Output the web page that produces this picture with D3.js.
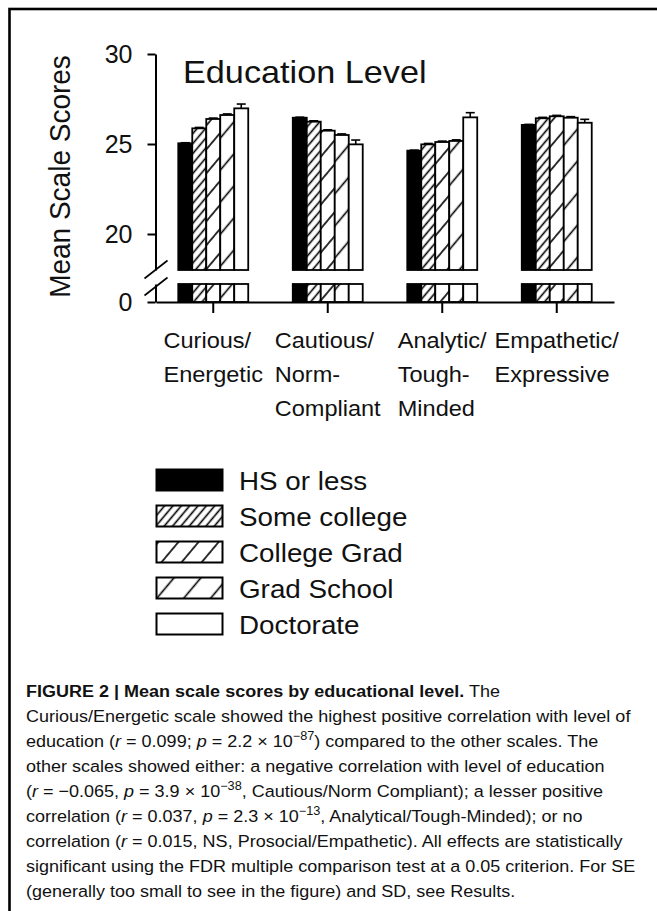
<!DOCTYPE html>
<html>
<head>
<meta charset="utf-8">
<script src="https://cdn.jsdelivr.net/npm/d3@7"></script>
<style>
  html, body { margin: 0; padding: 0; background: #fff; }
  svg { display: block; }
  text { font-family: "Liberation Sans", Arial, Helvetica, sans-serif; fill: #111; }
</style>
</head>
<body>
<div id="chart"></div>
<script>
// ---------------- data ----------------
const categories = ["Curious/Energetic", "Cautious/Norm-Compliant", "Analytic/Tough-Minded", "Empathetic/Expressive"];
const categoryLines = [
  ["Curious/", "Energetic"],
  ["Cautious/", "Norm-", "Compliant"],
  ["Analytic/", "Tough-", "Minded"],
  ["Empathetic/", "Expressive"]
];
const series = ["HS or less", "Some college", "College Grad", "Grad School", "Doctorate"];
const hsOrLess     = [25.04, 26.46, 24.63, 26.06];
const someCollege  = [25.87, 26.24, 24.98, 26.43];
const collegeGrad  = [26.39, 25.74, 25.11, 26.54];
const gradSchool   = [26.61, 25.50, 25.17, 26.46];
const doctorate    = [26.98, 24.98, 26.48, 26.18];
const seriesValues = [hsOrLess, someCollege, collegeGrad, gradSchool, doctorate];
const errHs        = [0.03, 0.03, 0.03, 0.03];
const errSome      = [0.05, 0.05, 0.05, 0.05];
const errCollege   = [0.05, 0.05, 0.05, 0.05];
const errGrad      = [0.06, 0.06, 0.06, 0.06];
const errDoc       = [0.24, 0.24, 0.26, 0.19];
const seriesErrors = [errHs, errSome, errCollege, errGrad, errDoc];
const upperTicks = [20, 25, 30];
const lowerTicks = [0];
const axisBreak = 18;
const chartTitle = "Education Level";
const yTitle = "Mean Scale Scores";

const captionLines = [
  [["FIGURE 2 | Mean scale scores by educational level.", "b"], [" The", ""]],
  [["Curious/Energetic scale showed the highest positive correlation with level of", ""]],
  [["education (", ""], ["r", "i"], [" = 0.099; ", ""], ["p", "i"], [" = 2.2 × 10", ""], ["−87", "sup"], [") compared to the other scales. The", ""]],
  [["other scales showed either: a negative correlation with level of education", ""]],
  [["(", ""], ["r", "i"], [" = −0.065, ", ""], ["p", "i"], [" = 3.9 × 10", ""], ["−38", "sup"], [", Cautious/Norm Compliant); a lesser positive", ""]],
  [["correlation (", ""], ["r", "i"], [" = 0.037, ", ""], ["p", "i"], [" = 2.3 × 10", ""], ["−13", "sup"], [", Analytical/Tough-Minded); or no", ""]],
  [["correlation (", ""], ["r", "i"], [" = 0.015, NS, Prosocial/Empathetic). All effects are statistically", ""]],
  [["significant using the FDR multiple comparison test at a 0.05 criterion. For SE", ""]],
  [["(generally too small to see in the figure) and SD, see Results.", ""]]
];

// ---------------- layout ----------------
const W = 657, H = 911;
const SX = 1.07;   // horizontal stretch of the source figure
const CSX = 1.06;  // caption stretch
const svg = d3.select("#chart").append("svg").attr("width", W).attr("height", H);

// patterns
const defs = svg.append("defs");
const patternSpec = [
  { id: "p1", gap: 6.4 },
  { id: "p2", gap: 15.4 },
  { id: "p3", gap: 20.6 }
];
patternSpec.forEach(p => {
  const pat = defs.append("pattern")
    .attr("id", p.id)
    .attr("patternUnits", "userSpaceOnUse")
    .attr("width", p.gap).attr("height", 10)
    .attr("patternTransform", "rotate(40)");
  pat.append("rect").attr("width", p.gap).attr("height", 10).attr("fill", "#fff");
  pat.append("line").attr("x1", p.gap / 2).attr("x2", p.gap / 2).attr("y1", -1).attr("y2", 11)
    .attr("stroke", "#000").attr("stroke-width", 1.6);
});
const fills = ["#000", "url(#p1)", "url(#p2)", "url(#p3)", "#fff"];
const fillScale = d3.scaleOrdinal().domain(series).range(fills);

// frame
svg.append("rect").attr("x", 9.5).attr("y", 9).attr("width", 760).attr("height", 1000)
  .attr("fill", "none").attr("stroke", "#000").attr("stroke-width", 2.6);

// scales
const x0 = d3.scaleBand().domain(categories).range([156, 614]).paddingInner(0.389).paddingOuter(0.1945);
const x1 = d3.scaleBand().domain(series).range([0, x0.bandwidth()]);
const yUp = d3.scaleLinear().domain([axisBreak, 30]).range([270, 54]);
const yLow = d3.scaleLinear().domain([0, 1]).range([302, 284]);
const axisX = 155.5;

// bars
const rows = [];
categories.forEach((c, ci) => {
  series.forEach((s, si) => {
    rows.push({ cat: c, ser: s, v: seriesValues[si][ci], e: seriesErrors[si][ci] });
  });
});

const barG = svg.append("g");
barG.selectAll("rect.up").data(rows).join("rect")
  .attr("class", "up")
  .attr("x", d => x0(d.cat) + x1(d.ser))
  .attr("y", d => yUp(d.v))
  .attr("width", x1.bandwidth())
  .attr("height", d => yUp(axisBreak) - yUp(d.v))
  .attr("fill", d => fillScale(d.ser))
  .attr("stroke", "#000").attr("stroke-width", 1.8);

barG.selectAll("rect.low").data(rows).join("rect")
  .attr("class", "low")
  .attr("x", d => x0(d.cat) + x1(d.ser))
  .attr("y", yLow(1))
  .attr("width", x1.bandwidth())
  .attr("height", yLow(0) - yLow(1))
  .attr("fill", d => fillScale(d.ser))
  .attr("stroke", "#000").attr("stroke-width", 1.8);

// error bars
const errG = svg.append("g").attr("stroke", "#000").attr("stroke-width", 1.6);
rows.forEach(d => {
  const cx = x0(d.cat) + x1(d.ser) + x1.bandwidth() / 2;
  errG.append("line").attr("x1", cx).attr("x2", cx).attr("y1", yUp(d.v)).attr("y2", yUp(d.v + d.e));
  errG.append("line").attr("x1", cx - 4.5).attr("x2", cx + 4.5).attr("y1", yUp(d.v + d.e)).attr("y2", yUp(d.v + d.e));
});

// axes
function styleAxis(g) {
  g.selectAll("path, line").attr("stroke", "#000").attr("stroke-width", 2);
  g.selectAll("text").attr("font-size", 25).attr("fill", "#111")
    .attr("font-family", "Liberation Sans, Arial, sans-serif");
}
svg.append("g").attr("transform", `translate(${axisX},0)`)
  .call(d3.axisLeft(yUp).tickValues(upperTicks).tickFormat(d3.format("d")).tickSize(8).tickSizeOuter(0).tickPadding(15))
  .call(styleAxis);
svg.append("g").attr("transform", `translate(${axisX},0)`)
  .call(d3.axisLeft(yLow).tickValues(lowerTicks).tickFormat(d3.format("d")).tickSize(8).tickSizeOuter(0).tickPadding(15))
  .call(styleAxis);
svg.append("g").attr("transform", `translate(0,${yLow(0)})`)
  .call(d3.axisBottom(x0).tickSize(11).tickSizeOuter(0).tickFormat(""))
  .call(styleAxis);

// break marks
const brk = svg.append("g").attr("stroke", "#000").attr("stroke-width", 1.6);
[yUp(axisBreak), yLow(1) + 3].forEach(yy => {
  brk.append("line").attr("x1", axisX - 11).attr("x2", axisX + 12)
    .attr("y1", yy + 8.5).attr("y2", yy - 9.5);
});

// title
svg.append("text").attr("transform", `translate(183,83) scale(${SX},1)`)
  .attr("font-size", 32).text(chartTitle);

// y title
svg.append("text").attr("transform", `translate(70,176.5) scale(${SX},1) rotate(-90)`)
  .attr("text-anchor", "middle").attr("font-size", 28).text(yTitle);

// category labels
categories.forEach((c, ci) => {
  const g = svg.append("g");
  const texts = categoryLines[ci].map((line, li) =>
    g.append("text").attr("font-size", 22).text(line));
  const maxW = d3.max(texts, t => t.node().getComputedTextLength()) * SX;
  const left = x0(c) + x0.bandwidth() / 2 - maxW / 2;
  texts.forEach((t, li) => t.attr("transform", `translate(${left},${348 + li * 34}) scale(${SX},1)`));
});

// legend
const leg = svg.append("g");
series.forEach((s, i) => {
  const y = 469.5 + i * 36;
  leg.append("rect").attr("x", 156.5).attr("y", y).attr("width", 66).attr("height", 21)
    .attr("fill", fillScale(s)).attr("stroke", "#000").attr("stroke-width", 2);
  leg.append("text").attr("transform", `translate(239,${y + 20.5}) scale(${SX},1)`)
    .attr("font-size", 26).text(s);
});

// caption
const cap = svg.append("g");
captionLines.forEach((segs, li) => {
  const t = cap.append("text").attr("transform", `translate(26,${697 + li * 25}) scale(${CSX},1)`)
    .attr("font-size", 17);
  let raised = false;
  segs.forEach(([txt, st]) => {
    const ts = t.append("tspan").text(txt);
    if (st === "b") ts.attr("font-weight", "bold");
    if (st === "i") ts.attr("font-style", "italic");
    if (st === "sup") { ts.attr("font-size", 12).attr("dy", -7); raised = true; }
    else if (raised) { ts.attr("dy", 7); raised = false; }
  });
});
</script>
</body>
</html>
